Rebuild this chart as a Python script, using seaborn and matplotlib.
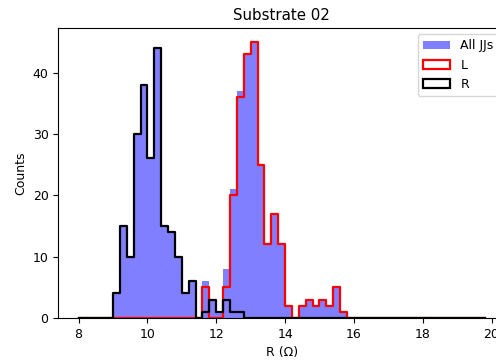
import numpy as np
import pandas as pd
import matplotlib
matplotlib.use("Agg")
import matplotlib.pyplot as plt
from matplotlib.patches import Patch
import seaborn as sns

# Histogram bins: 0.2 Ohm wide, from 8.0 to 19.8 Ohm
bin_edges = [round(8.0 + 0.2 * i, 1) for i in range(60)]
bin_centers = [round(e + 0.1, 2) for e in bin_edges[:-1]]

# Counts per bin for the right-hand (R) junctions
r_counts = [0, 0, 0, 0, 0,
            4, 15, 10, 30, 38, 26, 44, 15, 14, 10, 4, 6, 0, 1, 3, 1, 3, 1, 1] + [0] * 35

# Counts per bin for the left-hand (L) junctions
l_counts = [0] * 18 + [5, 0, 0, 5, 20, 36, 43, 45, 25, 12, 17, 12,
                       2, 0, 2, 3, 2, 3, 2, 5, 1] + [0] * 20

# Counts per bin for all junctions together
all_counts = [0, 0, 0, 0, 0,
              4, 15, 10, 30, 38, 26, 44, 15, 14, 10, 4, 6, 0, 6, 3, 1, 8, 21, 37,
              43, 45, 25, 12, 17, 12, 2, 0, 2, 3, 2, 3, 2, 5, 1] + [0] * 20

title = "Substrate 02"
x_label = "R (Ω)"
y_label = "Counts"
legend_labels = ["All JJs", "L", "R"]

hist_df = pd.DataFrame({
    "R": bin_centers,
    "all": np.asarray(all_counts, dtype=float),
    "L": np.asarray(l_counts, dtype=float),
    "Rside": np.asarray(r_counts, dtype=float),
})

plt.rcParams["font.size"] = 9
plt.rcParams["font.family"] = ["DejaVu Sans"]

fig = plt.figure(figsize=(4.96, 3.61), dpi=100)
ax = fig.add_axes([0.1175, 0.1191, 0.9006, 0.8033])

sns.histplot(data=hist_df, x="R", weights="all", bins=bin_edges, element="step",
             fill=True, color=(0, 0, 1), alpha=0.5, linewidth=0, ax=ax)
sns.histplot(data=hist_df, x="R", weights="L", bins=bin_edges, element="step",
             fill=False, color="red", linewidth=1.6, ax=ax)
sns.histplot(data=hist_df, x="R", weights="Rside", bins=bin_edges, element="step",
             fill=False, color="black", linewidth=1.6, ax=ax)

ax.set_ylim(0, max(all_counts) * 1.05)
ax.set_xticks([8, 10, 12, 14, 16, 18, 20])
ax.set_yticks([0, 10, 20, 30, 40])
ax.set_title(title)
ax.set_xlabel(x_label)
ax.set_ylabel(y_label)

handles = [
    Patch(facecolor=(0, 0, 1), alpha=0.5, edgecolor="none"),
    Patch(facecolor="none", edgecolor="red", linewidth=1.6),
    Patch(facecolor="none", edgecolor="black", linewidth=1.6),
]
ax.legend(handles, legend_labels, loc="upper right", handlelength=2.2)

fig.savefig("out.png", dpi=100)
